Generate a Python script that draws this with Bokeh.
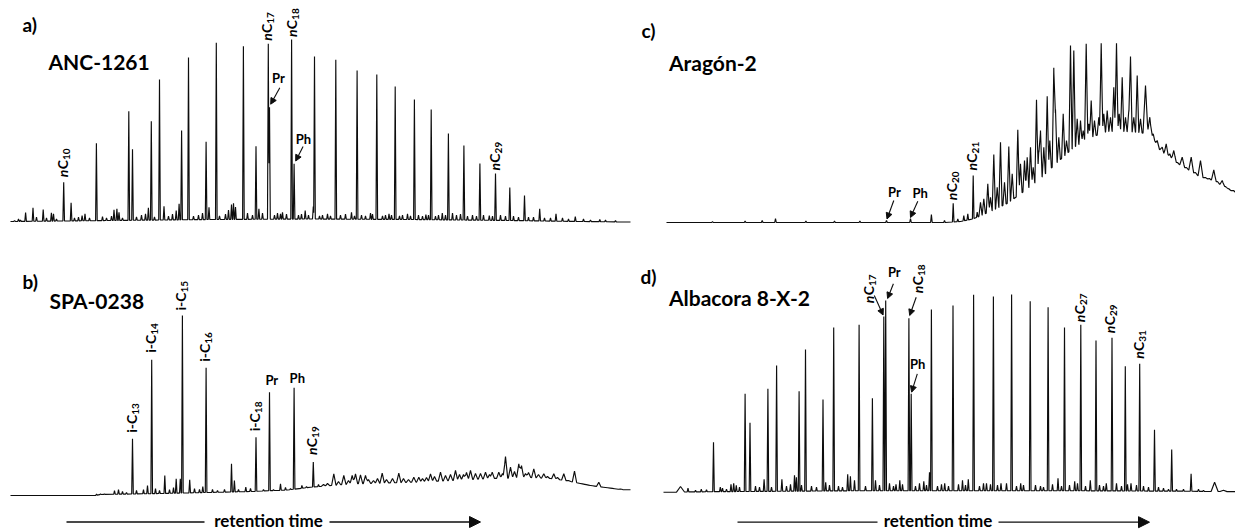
import numpy as np
from bokeh.plotting import figure
from bokeh.models import Range1d, Arrow, NormalHead
from bokeh.layouts import column, row
from bokeh.core.properties import value
from bokeh.embed import file_html
from bokeh.resources import INLINE

FONT = "Lato"
INK = "#0d0d0d"
TXT = "#000000"

# ---------------- (a) ANC-1261 : retention time (min), detector response ----------------
a_rt = [5.32, 8.59, 11.83, 12.2, 14.08, 14.9, 17.11, 17.8, 19.56, 20.58, 23.29, 24.55,
        25.78, 25.9, 28.11, 28.36, 30.4, 32.53, 34.66, 36.63, 38.47, 40.39, 42.07, 43.79,
        45.34, 46.94, 48.5, 49.93, 51.4, 52.92, 54.55, 56.48, 58.93]
a_int = [39.8, 78.8, 110.8, 72.8, 100.8, 142.5, 91.5, 164.5, 80.2, 179.2, 175.8, 75.8,
         178.2, 114.8, 182.5, 58.2, 165.5, 162.2, 151.5, 147.5, 135.5, 122.5, 112.5, 88.5,
         76.5, 58.5, 48.5, 34.5, 26.5, 13.2, 8.2, 5.5, 2.5]
a_minor_rt = [0.41, 0.8, 1.0, 1.51, 2.25, 2.6, 3.27, 3.6, 4.09, 4.3, 4.6, 6.06, 6.4, 6.8, 7.16,
              7.45, 7.9, 9.2, 9.6, 10.1, 10.35, 10.64, 10.85, 11.2, 12.6, 13.1, 13.5, 13.79,
              14.4, 15.35, 15.8, 16.2, 16.57, 16.86, 18.3, 18.8, 19.2, 19.85, 20.9, 21.5, 21.8,
              22.1, 22.3, 22.5, 23.7, 24.2, 24.84, 25.2, 26.4, 26.7, 27.0, 27.2, 27.6, 28.8,
              29.1, 29.47, 29.8, 30.28, 30.9, 31.2, 31.7, 32.0, 33.0, 33.5, 34.1, 34.4, 35.1,
              35.5, 36.0, 36.2, 37.2, 37.5, 37.85, 38.1, 38.9, 39.2, 39.7, 40.0, 40.8, 41.2,
              41.54, 41.8, 42.5, 42.8, 43.18, 43.5, 44.2, 44.6, 45.0, 45.7, 46.2, 46.6, 47.3,
              47.88, 48.2, 49.0, 49.5, 50.3, 50.8, 51.8, 52.3, 53.4, 54.0, 55.2, 55.8, 57.3,
              58.0, 59.5, 60.5]
a_minor_int = [1.5, 3, 2, 9.5, 14.2, 5, 12.5, 4, 9.2, 8.2, 3, 19.2, 4, 5, 6.5,
               8.2, 4, 5.5, 4, 6, 12.2, 13.2, 9.8, 4, 5, 7, 8.2, 14.2,
               5, 15.8, 6, 8, 11.5, 18.2, 6, 7, 9, 14.8, 6, 8, 12,
               17.5, 18.8, 15, 9, 7, 13.2, 9, 7, 9, 8.2, 9.8, 8, 7,
               8, 11.5, 7, 15.5, 6, 7, 8.2, 6, 7, 8, 9.8, 6, 7,
               6, 9, 8, 6, 7, 8.2, 7, 6, 7, 8.2, 6, 7, 6,
               7.5, 7, 6, 7, 9, 7, 9, 7, 8, 6, 7, 6, 7,
               6.5, 6, 7, 6, 6, 5, 5, 5, 4, 4, 4, 3, 3,
               2, 2, 1.5]
a_base_rt = [0, 10, 20, 30, 40, 50, 57, 62]
a_base_int = [0.5, 1.5, 2.5, 3, 2.5, 1.5, 0.5, 0]

# ---------------- (b) SPA-0238 ----------------
b_rt = [12.2, 14.12, 17.19, 19.56, 22.1, 24.55, 25.9, 28.36, 30.28, 49.5]
b_int = [56.7, 135.7, 180, 127.7, 31.7, 58.3, 103.3, 107.7, 33.5, 39]
b_minor_rt = [8.6, 9.0, 9.4, 10.4, 10.8, 11.2, 11.6, 12.6, 13.3, 13.7, 14.5, 14.9, 15.43, 15.9,
              16.3, 16.57, 16.98, 17.92, 18.4, 18.9, 19.23, 20.2, 20.7, 21.4, 22.39, 22.8,
              23.53, 24.0, 25.3, 26.3, 27.0, 27.5, 28.0, 29.14, 29.6, 30.8, 31.3, 31.7, 32.33,
              32.8, 33.33, 33.8, 34.17, 34.5, 35.0, 35.5, 35.8, 36.3, 36.7, 37.17, 37.6, 38.2,
              38.83, 39.3, 39.8, 40.33, 40.83, 41.2, 41.6, 42.0, 42.4, 43.0, 43.5, 44.0, 44.5,
              44.9, 45.3, 45.6, 46.0, 46.5, 47.0, 47.5, 47.9, 48.17, 48.83, 49.2, 50.0, 50.4,
              50.83, 51.1, 51.5, 51.8, 52.33, 52.8, 53.33, 53.7, 54.33, 54.7, 55.33, 55.8,
              56.4, 57.2, 57.8, 58.2, 58.83, 59.5, 60.2, 61.0]
b_minor_int = [1.5, 1.5, 1.5, 5, 6, 4, 3, 5, 6, 10, 7, 5, 20, 6,
               8, 16.7, 16.7, 15.7, 7, 6, 9, 6, 5, 6, 15, 6,
               8.3, 7, 6, 6, 11.7, 8, 7, 10, 9, 11, 11, 12, 21.7,
               14, 20, 15, 20, 21.7, 20.7, 20, 16, 15, 17, 22.3, 16, 17,
               22.3, 17, 16, 18.3, 18.3, 17, 18, 21.7, 19, 23.3, 20, 21, 25,
               21, 21, 23, 25, 22, 22, 23.3, 21, 23.3, 23.3, 22, 28.3, 24,
               31.7, 30, 22, 23, 26.7, 21, 21.7, 19, 21.7, 18, 21.7, 15,
               24.3, 9, 8, 7, 13.3, 7, 6, 6.5]
b_base_rt = [0, 8.5, 9, 12, 15, 19.5, 24, 27.7, 30, 34, 41, 45, 48, 52, 54, 55.5, 58, 61, 62]
b_base_int = [0, 0, 1, 1.5, 2, 3, 4, 5.5, 8.3, 11.5, 13.5, 15.5, 17, 18, 17, 15, 10, 6, 5.7]

# ---------------- (c) Aragón-2 ----------------
c_rt = [4.9, 8.16, 9.87, 11.2, 14.24, 17.1, 19.64, 22.3, 24.7, 26.79, 28.1, 28.97, 30.97]
c_int = [1, 1.5, 2, 4, 1.5, 1.5, 1.5, 2, 4, 8, 2, 19.3, 47]
c_hump_rt = [29.43, 30.03, 30.43, 31.37, 31.7, 32.03, 32.43, 32.7, 33.03, 33.37, 33.7, 34.1,
             34.53, 34.87, 35.43, 35.7, 36.1, 36.37, 36.7, 36.97, 37.3, 37.53, 37.7, 38.03,
             38.37, 38.63, 39.03, 39.2, 39.53, 39.97, 40.3, 40.7, 41.03, 41.37, 41.7, 41.97,
             42.27, 42.53, 42.77, 43.1, 43.53, 43.77, 44.03, 44.37, 44.7, 45.03, 45.3, 45.57,
             45.87, 46.2, 46.53, 46.7, 47.03, 47.37, 47.7, 48.2, 48.63, 48.97, 49.37, 49.6,
             49.87, 50.27, 50.45, 50.63, 51.03, 51.4, 51.87, 52.3, 52.77, 53.2, 53.7, 54.2,
             54.6, 55.03, 55.4, 55.87, 56.2, 56.53, 57.0]
c_hump_int = [3.7, 7, 8.7, 10.3, 20.3, 23.7, 38.7, 25.3, 68, 35.3, 80.3, 40.3,
              76, 48.7, 92.7, 58.7, 62, 65.3, 75.3, 55.3, 122.7, 72, 92, 75.3,
              126.3, 82, 154.7, 113, 85.3, 108.7, 82, 177, 172, 103.7, 102, 92,
              178.7, 98.7, 122, 102, 105.3, 179.3, 108.7, 112, 105.3, 135.3, 179.3, 108.7,
              145.3, 105.3, 112, 166, 105.3, 147, 103.7, 137, 105.3, 88.7, 82, 73,
              75.3, 78.7, 66, 68.7, 72, 60, 65.3, 55, 65.3, 50, 62, 45,
              44, 52.7, 41, 42, 36, 33.7, 32]
c_base_rt = [0.3, 28.2, 29.7, 31, 32.7, 34.37, 36.03, 37.7, 39.37, 41.03, 42.7, 44.37, 46.03,
             47.7, 48.4, 49.0, 50.03, 51.7, 53.37, 55.03, 56.7, 57.4]
c_base_int = [0, 0, 1, 3.7, 11, 19, 31, 44, 60, 75, 85, 91, 91,
              90, 88, 80, 67, 57, 47, 41, 32, 29]

# ---------------- (d) Albacora 8-X-2 ----------------
d_rt = [5.0, 8.16, 8.65, 10.44, 11.31, 13.56, 14.2, 15.95, 17.02, 19.56, 20.89, 22.03, 22.22,
        24.54, 24.77, 26.79, 28.95, 31.01, 32.99, 34.81, 36.67, 38.46, 40.1, 41.73, 43.25,
        44.85, 46.18, 47.62, 49.1, 50.82, 52.76, 55.11]
d_int = [50, 98.4, 69.4, 103.4, 126.7, 101, 142.7, 92.7, 164.7, 167.4, 94, 175.7, 191.7,
         174, 98.4, 182.7, 186.7, 197.4, 195.7, 197.7, 191, 185, 164.7, 167.4, 151.7,
         154.4, 126, 128.4, 62.4, 42.7, 18.4, 10]
d_minor_rt = [1.7, 2.45, 3.2, 3.78, 4.3, 5.68, 5.9, 6.3, 6.75, 7.02, 7.28, 7.6, 9.2, 9.6, 10.06,
              10.8, 11.84, 12.3, 12.7, 13.1, 13.29, 13.8, 14.8, 15.3, 16.22, 16.6, 17.5, 17.9,
              18.42, 18.69, 19.1, 20.2, 21.2, 21.6, 22.6, 23.0, 23.25, 23.63, 23.9, 25.2, 25.6,
              26.03, 26.3, 26.6, 27.4, 27.8, 28.12, 28.5, 29.5, 29.9, 30.2, 30.48, 31.6, 32.0,
              32.3, 32.7, 33.4, 33.75, 34.3, 35.3, 35.72, 36.0, 37.2, 37.7, 38.0, 38.9, 39.45,
              39.8, 40.6, 41.12, 41.4, 42.2, 42.68, 43.6, 44.0, 44.28, 45.3, 45.8, 46.4, 46.75,
              47.3, 48.0, 48.5, 49.5, 50.0, 50.5, 51.3, 52.0, 53.5, 54.0, 56.0]
d_minor_int = [5.7, 4, 2, 3, 2.5, 5, 4, 3, 8, 9, 7, 5, 6, 5, 13,
               5, 13, 6, 8, 17, 15, 7, 6, 5, 10, 7, 6, 5,
               18, 16, 12, 6, 12, 7, 9, 6, 8, 12, 8, 6, 9,
               11, 7, 20, 6, 8, 9, 6, 8, 12, 7, 13, 6, 9,
               9, 8, 7, 9, 9, 6, 9, 7, 7, 6, 5, 8, 14,
               6, 7, 11, 9, 6, 12, 7, 6, 9, 9, 6, 8, 9,
               7, 6, 5, 5, 4, 3, 3, 3, 3, 2, 2]
d_base_rt = [0, 5, 20, 40, 52, 57.4]
d_base_int = [0, 0.5, 1.5, 1.5, 1, 0.5]

# peak annotations (name, retention time of the labelled peak)
a_nlabels = [("nC10", 5.32), ("nC17", 25.78), ("nC18", 28.11), ("nC29", 48.5)]
b_nlabels = [("i-C13", 12.2), ("i-C14", 14.12), ("i-C15", 17.19), ("i-C16", 19.56),
             ("i-C18", 24.55), ("nC19", 30.28)]
c_nlabels = [("nC20", 28.97), ("nC21", 30.97)]
d_nlabels = [("nC17", 22.03), ("nC18", 24.54), ("nC27", 41.73), ("nC29", 44.85), ("nC31", 47.62)]
a_pr_ph = [("Pr", 25.9), ("Ph", 28.36)]
b_pr_ph = [("Pr", 25.9), ("Ph", 28.36)]
c_pr_ph = [("Pr", 22.3), ("Ph", 24.7)]
d_pr_ph = [("Pr", 22.22), ("Ph", 24.77)]

# ---------------------------------------------------------------------------------------
def make_fig(w, h, xr, yr):
    p = figure(width=w, height=h, x_range=Range1d(*xr), y_range=Range1d(*yr),
               x_axis_type=None, y_axis_type=None, toolbar_location=None,
               output_backend="svg", min_border=0)
    p.outline_line_color = None
    p.background_fill_color = "white"
    p.border_fill_color = "white"
    return p


def chromatogram(rt, inten, base_rt, base_int, width_of):
    rt = np.asarray(rt, float)
    inten = np.asarray(inten, float)
    brt = np.asarray(base_rt, float)
    bint = np.asarray(base_int, float)
    w = np.array([width_of(t) for t in rt])
    grid = np.concatenate([brt, rt - w, rt, rt + w])
    grid = np.unique(grid[(grid >= brt[0]) & (grid <= brt[-1])])
    base = np.interp(grid, brt, bint)
    y = base.copy()
    for t, a, wi in zip(rt, inten, w):
        h = a - np.interp(t, brt, bint)
        if h > 0:
            y = np.maximum(y, base + h * np.clip(1 - np.abs(grid - t) / wi, 0, None))
    return grid, y


EM = {"n": 0.56, "C": 0.66, "i": 0.26, "-": 0.37}


def text_len(s, size):
    return sum(EM.get(ch, 0.58) for ch in s) * size


def apex_of(rts, ints, t):
    rts = np.asarray(rts, float)
    k = int(np.argmin(np.abs(rts - t)))
    return ints[k]


def txt(p, x, y, s, size, style="bold", align="left", angle=0.0):
    p.text(x=[x], y=[y], text=[s], angle=angle, text_font=value(FONT),
           text_font_size=f"{size}px", text_font_style=value(style), text_color=TXT,
           text_align=value(align), text_baseline=value("middle"))


SX, SY = 10.0, 1.0   # pixels per minute, pixels per response unit


def vlabel(p, name, rt, apex, dx, gap, size=14, sub=10):
    xc = rt + dx / SX
    y = apex + gap / SY
    if name.startswith("n"):
        parts = [("n", "bold italic", size, 0.0), ("C", "bold", size, 0.0)]
        digits = name[2:]
    else:
        parts = [(name[:3], "bold", size, 0.0)]
        digits = name[3:]
    parts.append((digits, "bold", sub, 4.0))
    for s, style, fs, shift in parts:
        txt(p, xc + shift / SX, y, s, fs, style=style, angle=np.pi / 2)
        y += text_len(s, fs) / SY


def pointer(p, rt, apex, d0, d1):
    p.add_layout(Arrow(end=NormalHead(size=6, fill_color=INK, line_color=INK, line_width=1),
                       x_start=rt + d0[0] / SX, y_start=apex - d0[1] / SY,
                       x_end=rt + d1[0] / SX, y_end=apex - d1[1] / SY,
                       line_color=INK, line_width=1.1))


def rt_arrow(p, t0, t1, tgap0, tgap1, level, tmid, text_level):
    p.line([t0, tgap0], [level, level], line_color=INK, line_width=1.3)
    p.add_layout(Arrow(end=NormalHead(size=11, fill_color=INK, line_color=INK, line_width=1),
                       x_start=tgap1, y_start=level, x_end=t1, y_end=level,
                       line_color=INK, line_width=1.3))
    txt(p, tmid, text_level, "retention time", 17, align="center")


# layout: 10 px per minute, 1 px per response unit in every panel
pa = make_fig(636, 240, (-1.0, 62.6), (-18.5, 221.5))
pc = make_fig(599, 240, (-2.7, 57.2), (-18.0, 222.0))
pb = make_fig(636, 290, (-1.0, 62.6), (-35.0, 255.0))
pd = make_fig(599, 290, (-2.7, 57.2), (-38.3, 251.7))

LW = 1.15
x, y = chromatogram(a_rt + a_minor_rt, a_int + a_minor_int, a_base_rt, a_base_int,
                    lambda t: 0.08)
pa.line(x, y, line_color=INK, line_width=LW)
x, y = chromatogram(b_rt + b_minor_rt, b_int + b_minor_int, b_base_rt, b_base_int,
                    lambda t: 0.08 if t < 31 else 0.22)
pb.line(x, y, line_color=INK, line_width=LW)
x, y = chromatogram(c_rt + c_hump_rt, c_int + c_hump_int, c_base_rt, c_base_int,
                    lambda t: 0.08 if t < 31.5 else (0.16 if t < 48 else 0.25))
pc.line(x, y, line_color=INK, line_width=LW)
x, y = chromatogram(d_rt + d_minor_rt, d_int + d_minor_int, d_base_rt, d_base_int,
                    lambda t: 0.4 if t < 2 else (0.35 if t > 54 else 0.08))
pd.line(x, y, line_color=INK, line_width=LW)

# ---- panel titles (anchored at their vertical centre) ----
txt(pa, 1.2, 197.5, "a)", 19)
txt(pa, 3.8, 160.5, "ANC-1261", 21)
txt(pc, -2.2, 192.0, "c)", 19)
txt(pc, 0.55, 160.3, "Aragón-2", 21)
txt(pb, 1.2, 214.0, "b)", 19)
txt(pb, 3.9, 195.5, "SPA-0238", 21)
txt(pd, -2.3, 215.7, "d)", 19)
txt(pd, 0.55, 194.7, "Albacora 8-X-2", 21)

# ---- vertical peak labels ----
a_all_rt, a_all_int = a_rt + a_minor_rt, a_int + a_minor_int
lay_a = {"nC10": (-1.5, 5), "nC17": (-1.5, 3), "nC18": (-0.5, 2.5), "nC29": (-1.5, 3)}
for name, t in a_nlabels:
    dx, gap = lay_a[name]
    vlabel(pa, name, t, apex_of(a_all_rt, a_all_int, t), dx, gap)

b_all_rt, b_all_int = b_rt + b_minor_rt, b_int + b_minor_int
lay_b = {"i-C13": (-1.5, 6), "i-C14": (-1.5, 7), "i-C15": (-1.5, 5), "i-C16": (-1.5, 6),
         "i-C18": (-1.5, 6), "nC19": (-1.5, 7)}
for name, t in b_nlabels:
    dx, gap = lay_b[name]
    vlabel(pb, name, t, apex_of(b_all_rt, b_all_int, t), dx, gap)

c_all_rt, c_all_int = c_rt + c_hump_rt, c_int + c_hump_int
lay_c = {"nC20": (-1.5, 3), "nC21": (-1.5, 5)}
for name, t in c_nlabels:
    dx, gap = lay_c[name]
    vlabel(pc, name, t, apex_of(c_all_rt, c_all_int, t), dx, gap)

d_all_rt, d_all_int = d_rt + d_minor_rt, d_int + d_minor_int
lay_d = {"nC17": (-15, 13.3), "nC18": (8.5, 25), "nC27": (-1.5, 2.6), "nC29": (-3, 4.6),
         "nC31": (-1.5, 5)}
for name, t in d_nlabels:
    dx, gap = lay_d[name]
    vlabel(pd, name, t, apex_of(d_all_rt, d_all_int, t), dx, gap)

# arrows for the offset n-alkane labels in (d)
pointer(pd, 22.03, apex_of(d_all_rt, d_all_int, 22.03), (-9.5, -21), (-0.7, -1.5))
pointer(pd, 24.54, apex_of(d_all_rt, d_all_int, 24.54), (7.3, -21), (0.8, -2.7))

# ---- Pr / Ph labels ----
pos_a = {"Pr": ((9, -29), (10.3, -19.4), (1.2, -3)), "Ph": ((9.4, -25), (9, -17.3), (1.6, -2.8))}
for s, t in a_pr_ph:
    ap = apex_of(a_all_rt, a_all_int, t)
    (tx, ty), d0, d1 = pos_a[s]
    txt(pa, t + tx / SX, ap - ty / SY, s, 13, align="center")
    pointer(pa, t, ap, d0, d1)

pos_b = {"Pr": (2.3, -12), "Ph": (3.2, -10)}
for s, t in b_pr_ph:
    ap = apex_of(b_all_rt, b_all_int, t)
    tx, ty = pos_b[s]
    txt(pb, t + tx / SX, ap - ty / SY, s, 13, align="center")

pos_c = {"Pr": ((8, -28.3), (7.3, -20), (0.5, -1.5)), "Ph": ((9.7, -25.5), (7.3, -17.3), (0, -1))}
for s, t in c_pr_ph:
    ap = apex_of(c_all_rt, c_all_int, t)
    (tx, ty), d0, d1 = pos_c[s]
    txt(pc, t + tx / SX, ap - ty / SY, s, 13, align="center")
    pointer(pc, t, ap, d0, d1)

pos_d = {"Pr": ((8.6, -28.3), (7.7, -16.7), (1.9, -2)), "Ph": ((6.5, -29.5), (6.1, -20), (0.4, -1.6))}
for s, t in d_pr_ph:
    ap = apex_of(d_all_rt, d_all_int, t)
    (tx, ty), d0, d1 = pos_d[s]
    txt(pd, t + tx / SX, ap - ty / SY, s, 13, align="center")
    pointer(pd, t, ap, d0, d1)

# ---- retention time arrows ----
rt_arrow(pb, 5.6, 47.0, 19.4, 31.9, -26.5, 25.8, -24.5)
rt_arrow(pd, 7.4, 48.6, 21.4, 33.5, -30, 27.45, -27.8)

layout = column(row(pa, pc), row(pb, pd))
open("out.html", "w").write(file_html(layout, INLINE))
